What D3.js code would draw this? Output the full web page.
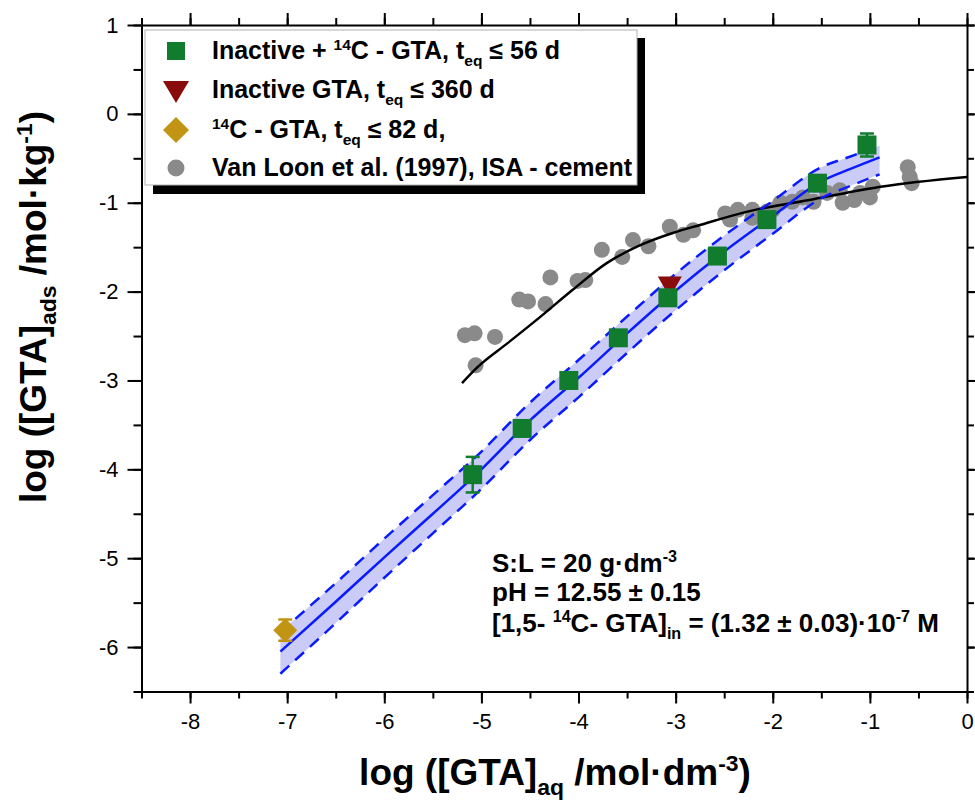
<!DOCTYPE html>
<html>
<head>
<meta charset="utf-8">
<script src="https://cdn.jsdelivr.net/npm/d3@7"></script>
<style>
  body { margin: 0; background: #fff; }
  svg { display: block; font-family: "Liberation Sans", Arial, sans-serif; }
</style>
</head>
<body>
<script>
// Inactive + 14C - GTA (squares)
const sqX = [-5.09, -4.58, -4.10, -3.59, -3.08, -2.57, -2.06, -1.54, -1.03];
const sqY = [-4.06, -3.54, -3.00, -2.52, -2.07, -1.60, -1.19, -0.78, -0.35];
const sqErr = [0.20, 0.07, 0.06, 0.06, 0.06, 0.06, 0.06, 0.06, 0.13];

// Inactive GTA (triangle)
const triX = [-3.06];
const triY = [-1.92];

// 14C - GTA (diamond)
const diaX = [-7.02];
const diaY = [-5.81];
const diaErr = [0.12];

// Van Loon et al. (1997)
const vlX = [-5.17, -5.07, -4.86, -5.06, -4.61, -4.52, -4.34, -4.29, -4.01, -3.93, -3.76, -3.55,
  -3.44, -3.28, -3.06, -2.92, -2.82, -2.49, -2.44, -2.36, -2.21, -2.21, -2.06, -2.00, -1.92, -1.80,
  -1.69, -1.58, -1.44, -1.31, -1.28, -1.16, -1.10, -1.00, -0.97, -0.61, -0.59, -0.57];
const vlY = [-2.49, -2.47, -2.51, -2.83, -2.09, -2.11, -2.14, -1.84, -1.88, -1.87, -1.53, -1.61,
  -1.42, -1.49, -1.27, -1.36, -1.31, -1.12, -1.19, -1.08, -1.08, -1.17, -1.10, -1.08, -1.00, -0.99,
  -0.94, -0.99, -0.89, -0.86, -1.00, -0.97, -0.89, -0.94, -0.82, -0.60, -0.71, -0.78];

// Van Loon model curve (black)
const vlCurveX = [-5.20, -5.04, -4.73, -4.40, -4.06, -3.71, -3.37, -3.03, -2.75, -2.26, -1.58, -0.89, 0];
const vlCurveY = [-3.03, -2.85, -2.58, -2.29, -1.98, -1.68, -1.48, -1.34, -1.25, -1.10, -0.96, -0.82, -0.71];

// fit (blue) and confidence band
const fitX = [-7.07, -6.5, -6.0, -5.5, -5.0, -4.5, -4.0, -3.5, -3.0, -2.5, -2.0, -1.5, -1.2, -0.9];
const fitY = [-6.05, -5.49, -4.99, -4.50, -4.00, -3.45, -2.97, -2.47, -1.99, -1.55, -1.15, -0.76, -0.62, -0.49];
const bandHi = [-5.83, -5.28, -4.78, -4.29, -3.80, -3.25, -2.77, -2.28, -1.80, -1.37, -0.98, -0.60, -0.48, -0.36];
const bandLo = [-6.30, -5.73, -5.22, -4.72, -4.22, -3.67, -3.19, -2.69, -2.21, -1.76, -1.35, -0.95, -0.81, -0.68];

// axes
const xMajor = [-8, -7, -6, -5, -4, -3, -2, -1, 0];
const yMajor = [-6, -5, -4, -3, -2, -1, 0, 1];

const width = 975, height = 803;
const pLeft = 141.5, pRight = 967, pTop = 25, pBottom = 691.5;

const green = "#127c2e", red = "#8a0b0b", gold = "#c29414", gray = "#8a8a8a", blue = "#0a1cff";

const svg = d3.select("body").append("svg")
  .attr("width", width)
  .attr("height", height);

const x = d3.scaleLinear().domain([-8.5, 0]).range([pLeft, pRight]);
const y = d3.scaleLinear().domain([-6.5, 1]).range([pBottom, pTop]);

const xMinor = d3.range(-17, 1).map(d => d / 2);
const yMinor = d3.range(-13, 3).map(d => d / 2);

// text with sub/superscripts
function rich(sel, parts, fs) {
  let shift = 0;
  parts.forEach(([t, k]) => {
    const target = k === "sup" ? -0.38 * fs : k === "sub" ? 0.28 * fs : 0;
    sel.append("tspan")
      .attr("dy", target - shift)
      .attr("font-size", k ? fs * 0.62 : fs)
      .text(t);
    shift = target;
  });
}

// clip for plot area
svg.append("clipPath").attr("id", "plot")
  .append("rect").attr("x", pLeft).attr("y", pTop)
  .attr("width", pRight - pLeft).attr("height", pBottom - pTop);

const plot = svg.append("g").attr("clip-path", "url(#plot)");

// confidence band
const bandData = fitX.map((d, i) => ({ x: d, lo: bandLo[i], hi: bandHi[i], f: fitY[i] }));
plot.append("path")
  .datum(bandData)
  .attr("fill", "#cacbf7")
  .attr("d", d3.area().x(d => x(d.x)).y0(d => y(d.lo)).y1(d => y(d.hi)).curve(d3.curveMonotoneX));

// Van Loon points
plot.selectAll("circle.vl")
  .data(vlX.map((d, i) => [d, vlY[i]]))
  .join("circle")
  .attr("class", "vl")
  .attr("cx", d => x(d[0]))
  .attr("cy", d => y(d[1]))
  .attr("r", 8)
  .attr("fill", gray);

// Van Loon curve
plot.append("path")
  .datum(vlCurveX.map((d, i) => [d, vlCurveY[i]]))
  .attr("fill", "none")
  .attr("stroke", "#000")
  .attr("stroke-width", 2.5)
  .attr("d", d3.line().x(d => x(d[0])).y(d => y(d[1])).curve(d3.curveMonotoneX));

// dashed band edges
["hi", "lo"].forEach(k => {
  plot.append("path")
    .datum(bandData)
    .attr("fill", "none")
    .attr("stroke", blue)
    .attr("stroke-width", 2.5)
    .attr("stroke-dasharray", "12,8")
    .attr("d", d3.line().x(d => x(d.x)).y(d => y(d[k])).curve(d3.curveMonotoneX));
});

// fit line
plot.append("path")
  .datum(bandData)
  .attr("fill", "none")
  .attr("stroke", blue)
  .attr("stroke-width", 2.5)
  .attr("d", d3.line().x(d => x(d.x)).y(d => y(d.f)).curve(d3.curveMonotoneX));

// error bars
function errBars(xs, ys, es, color) {
  const g = plot.append("g").attr("stroke", color).attr("stroke-width", 2.5);
  xs.forEach((xv, i) => {
    const cx = x(xv), t = y(ys[i] + es[i]), b = y(ys[i] - es[i]);
    g.append("line").attr("x1", cx).attr("x2", cx).attr("y1", t).attr("y2", b);
    g.append("line").attr("x1", cx - 7).attr("x2", cx + 7).attr("y1", t).attr("y2", t);
    g.append("line").attr("x1", cx - 7).attr("x2", cx + 7).attr("y1", b).attr("y2", b);
  });
}

// triangle
plot.selectAll("path.tri")
  .data(triX.map((d, i) => [d, triY[i]]))
  .join("path")
  .attr("class", "tri")
  .attr("d", "M-12,-8L12,-8L0,13Z")
  .attr("transform", d => `translate(${x(d[0])},${y(d[1])})`)
  .attr("fill", red);

errBars(sqX, sqY, sqErr, green);

// squares
plot.selectAll("rect.sq")
  .data(sqX.map((d, i) => [d, sqY[i]]))
  .join("rect")
  .attr("class", "sq")
  .attr("x", d => x(d[0]) - 9.5)
  .attr("y", d => y(d[1]) - 9.5)
  .attr("width", 19)
  .attr("height", 19)
  .attr("fill", green);

errBars(diaX, diaY, diaErr, gold);

// diamond
plot.selectAll("path.dia")
  .data(diaX.map((d, i) => [d, diaY[i]]))
  .join("path")
  .attr("class", "dia")
  .attr("d", "M0,-12L12,0L0,12L-12,0Z")
  .attr("transform", d => `translate(${x(d[0])},${y(d[1])})`)
  .attr("fill", gold);

// axes
function styleAxis(g) {
  g.selectAll("path, line").attr("stroke", "#000").attr("stroke-width", 2);
  g.selectAll("text").attr("fill", "#000").attr("font-size", 22).attr("font-family", "Liberation Sans, Arial, sans-serif");
}

svg.append("g").attr("transform", `translate(0,${pBottom})`)
  .call(d3.axisBottom(x).tickValues(xMajor).tickSize(12).tickSizeOuter(0).tickPadding(10).tickFormat(d => String(d)))
  .call(styleAxis);
svg.append("g").attr("transform", `translate(0,${pBottom})`)
  .call(d3.axisBottom(x).tickValues(xMinor).tickSize(7).tickFormat(""))
  .call(styleAxis).call(g => g.select(".domain").remove());

svg.append("g").attr("transform", `translate(0,${pTop})`)
  .call(d3.axisTop(x).tickValues(xMajor).tickSize(12).tickSizeOuter(0).tickFormat(""))
  .call(styleAxis);
svg.append("g").attr("transform", `translate(0,${pTop})`)
  .call(d3.axisTop(x).tickValues(xMinor).tickSize(7).tickFormat(""))
  .call(styleAxis).call(g => g.select(".domain").remove());

svg.append("g").attr("transform", `translate(${pLeft},0)`)
  .call(d3.axisLeft(y).tickValues(yMajor).tickSize(14).tickSizeOuter(0).tickPadding(9).tickFormat(d => String(d)))
  .call(styleAxis);
svg.append("g").attr("transform", `translate(${pLeft},0)`)
  .call(d3.axisLeft(y).tickValues(yMinor).tickSize(8).tickFormat(""))
  .call(styleAxis).call(g => g.select(".domain").remove());

svg.append("g").attr("transform", `translate(${pRight},0)`)
  .call(d3.axisRight(y).tickValues(yMajor).tickSize(12).tickSizeOuter(0).tickFormat(""))
  .call(styleAxis);
svg.append("g").attr("transform", `translate(${pRight},0)`)
  .call(d3.axisRight(y).tickValues(yMinor).tickSize(7).tickFormat(""))
  .call(styleAxis).call(g => g.select(".domain").remove());

// axis titles
const xt = svg.append("text")
  .attr("x", 555).attr("y", 785)
  .attr("text-anchor", "middle")
  .attr("font-weight", "bold")
  .style("white-space", "pre");
rich(xt, [["log ([GTA]"], ["aq", "sub"], [" /mol\u00b7dm"], ["-3", "sup"], [")"]], 37);

const yt = svg.append("text")
  .attr("transform", "translate(46,307) rotate(-90)")
  .attr("text-anchor", "middle")
  .attr("font-weight", "bold")
  .style("white-space", "pre");
rich(yt, [["log ([GTA]"], ["ads", "sub"], [" /mol\u00b7kg"], ["-1", "sup"], [")"]], 37);

// legend
const lg = svg.append("g");
lg.append("rect").attr("x", 153).attr("y", 38).attr("width", 492).attr("height", 156).attr("fill", "#000");
lg.append("rect").attr("x", 145).attr("y", 30).attr("width", 492).attr("height", 155)
  .attr("fill", "#fff").attr("stroke", "#b0b0b0").attr("stroke-width", 1);

const legendRows = [
  { sym: "sq", color: green, parts: [["Inactive + "], ["14", "sup"], ["C - GTA, t"], ["eq", "sub"], [" \u2264 56 d"]] },
  { sym: "tri", color: red, parts: [["Inactive GTA, t"], ["eq", "sub"], [" \u2264 360 d"]] },
  { sym: "dia", color: gold, parts: [["14", "sup"], ["C - GTA, t"], ["eq", "sub"], [" \u2264 82 d,"]] },
  { sym: "circ", color: gray, parts: [["Van Loon et al. (1997), ISA - cement"]] }
];
const rowBase = [59, 98, 138, 176];
legendRows.forEach((r, i) => {
  const cy = rowBase[i] - 8, cx = 176;
  if (r.sym === "sq") lg.append("rect").attr("x", cx - 9).attr("y", cy - 9).attr("width", 18).attr("height", 18).attr("fill", r.color);
  if (r.sym === "tri") lg.append("path").attr("d", "M-13,-9L13,-9L0,13Z").attr("transform", `translate(${cx},${cy})`).attr("fill", r.color);
  if (r.sym === "dia") lg.append("path").attr("d", "M0,-13L13,0L0,13L-13,0Z").attr("transform", `translate(${cx},${cy})`).attr("fill", r.color);
  if (r.sym === "circ") lg.append("circle").attr("cx", cx).attr("cy", cy).attr("r", 8.5).attr("fill", r.color);
  const t = lg.append("text").attr("x", 212).attr("y", rowBase[i])
    .attr("font-weight", "bold").style("white-space", "pre");
  rich(t, r.parts, 25);
});

// annotation
const notes = [
  [["S:L = 20 g\u00b7dm"], ["-3", "sup"]],
  [["pH = 12.55 \u00b1 0.15"]],
  [["[1,5- "], ["14", "sup"], ["C- GTA]"], ["in", "sub"], [" = (1.32 \u00b1 0.03)\u00b710"], ["-7", "sup"], [" M"]]
];
const noteBase = [572, 601, 632];
notes.forEach((parts, i) => {
  const t = svg.append("text").attr("x", 492).attr("y", noteBase[i])
    .attr("font-weight", "bold").style("white-space", "pre");
  rich(t, parts, 26);
});
</script>
</body>
</html>
